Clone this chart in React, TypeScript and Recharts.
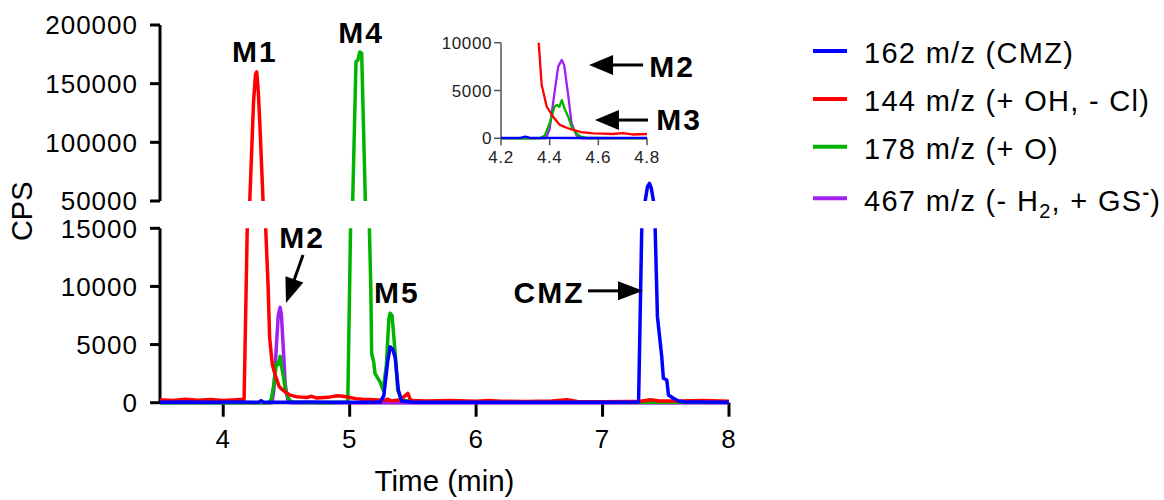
import React from 'react';
import { LineChart, Line, XAxis, YAxis, ReferenceLine, ReferenceDot, Legend, Label } from 'recharts';

const FONT = '"Liberation Sans", Arial, Helvetica, sans-serif';

// ---------- data (time in min, intensity in CPS) ----------
const BLUE_T = [3.5, 3.7, 3.9, 4.1, 4.28, 4.3, 4.32, 4.5, 4.7, 4.9, 5.1, 5.24, 5.27, 5.3, 5.32, 5.34, 5.36, 5.385, 5.41, 5.5, 5.8, 6.2, 6.6, 7.0, 7.285, 7.31, 7.337, 7.355, 7.371, 7.385, 7.403, 7.416, 7.434, 7.468, 7.481, 7.508, 7.521, 7.56, 7.6, 7.65, 7.8, 8.0];
const BLUE_V = [40, 60, 30, 50, 40, 180, 40, 30, 50, 30, 40, 60, 600, 3500, 4800, 4600, 3900, 1100, 150, 40, 30, 40, 30, 40, 60, 15000, 50000, 62000, 65000, 61000, 50000, 15000, 7400, 3960, 2100, 1950, 660, 380, 150, 60, 50, 40];

const RED_T = [3.5, 3.6, 3.7, 3.8, 3.9, 4.0, 4.1, 4.165, 4.19, 4.21, 4.24, 4.255, 4.265, 4.278, 4.29, 4.315, 4.336, 4.355, 4.367, 4.388, 4.414, 4.442, 4.47, 4.496, 4.53, 4.578, 4.62, 4.66, 4.7, 4.74, 4.8, 4.85, 4.9, 4.95, 5.0, 5.05, 5.1, 5.2, 5.27, 5.3, 5.33, 5.4, 5.46, 5.48, 5.5, 5.6, 5.8, 6.0, 6.1, 6.2, 6.4, 6.6, 6.72, 6.8, 7.0, 7.2, 7.3, 7.38, 7.45, 7.6, 7.8, 8.0];
const RED_V = [250, 180, 300, 220, 280, 200, 250, 300, 15000, 50000, 135000, 158000, 160000, 142000, 115000, 50000, 15000, 10000, 5600, 3300, 2260, 1400, 1100, 870, 650, 520, 480, 450, 550, 400, 450, 500, 600, 550, 450, 350, 300, 250, 200, 300, 150, 250, 800, 250, 200, 150, 180, 120, 200, 130, 100, 150, 250, 100, 80, 100, 120, 250, 150, 150, 180, 130];

const GREEN_T = [3.5, 4.0, 4.36, 4.38, 4.40, 4.42, 4.43, 4.44, 4.45, 4.46, 4.476, 4.49, 4.51, 4.53, 4.56, 4.8, 4.985, 5.007, 5.024, 5.05, 5.065, 5.08, 5.095, 5.124, 5.156, 5.167, 5.174, 5.19, 5.2, 5.24, 5.265, 5.29, 5.31, 5.32, 5.335, 5.36, 5.38, 5.41, 5.5, 6.0, 7.0, 8.0];
const GREEN_V = [0, 0, 0, 300, 1570, 3300, 3500, 3300, 4000, 3200, 2260, 1200, 500, 150, 30, 0, 50, 15000, 50000, 168700, 170000, 177000, 176000, 50000, 15000, 9980, 4250, 3500, 2530, 1800, 1090, 3200, 7200, 7700, 7500, 4270, 1090, 230, 80, 30, 30, 30];

const PURPLE_T = [3.5, 4.385, 4.40, 4.42, 4.435, 4.45, 4.46, 4.477, 4.49, 4.51, 4.53, 8.0];
const PURPLE_V = [0, 0, 1000, 4800, 7500, 8200, 7600, 4350, 1570, 300, 0, 0];

const TIME_TICKS = [4, 5, 6, 7, 8];
const UPPER_TICKS = [50000, 100000, 150000, 200000];
const LOWER_TICKS = [0, 5000, 10000, 15000];
const INSET_TIME_TICKS = [4.2, 4.4, 4.6, 4.8];
const INSET_CPS_TICKS = [0, 5000, 10000];

// annotation anchors (data space)
const UPPER_LABELS = [
  { text: 'M1', t: 4.251, v: 168500 },
  { text: 'M4', t: 5.09, v: 184700 },
];
const LOWER_LABELS = [
  { text: 'M2', t: 4.623, v: 13300 },
  { text: 'M5', t: 5.374, v: 8580 },
  { text: 'CMZ', t: 6.577, v: 8580 },
];
const LOWER_ARROWS = [
  { t1: 4.631, v1: 12700, t2: 4.4965, v2: 8580 },
  { t1: 6.885, v1: 9620, t2: 7.32, v2: 9620 },
];
const INSET_LABELS = [
  { text: 'M2', t: 4.903, v: 6380 },
  { text: 'M3', t: 4.932, v: 870 },
];
const INSET_ARROWS = [
  { t1: 4.784, v1: 7670, t2: 4.562, v2: 7670 },
  { t1: 4.804, v1: 1910, t2: 4.586, v2: 1910 },
];

type Part = { s: string; sub?: boolean; sup?: boolean };
const toPoints = (ts: number[], vs: number[]) => ts.map((t, i) => ({ t, v: vs[i] }));

const SERIES = [
  { id: 'm162', color: '#0000FF', parts: [{ s: '162 m/z (CMZ)' }] as Part[], data: toPoints(BLUE_T, BLUE_V) },
  { id: 'm144', color: '#FF0000', parts: [{ s: '144 m/z (+ OH, - Cl)' }] as Part[], data: toPoints(RED_T, RED_V) },
  { id: 'm178', color: '#00B400', parts: [{ s: '178 m/z (+ O)' }] as Part[], data: toPoints(GREEN_T, GREEN_V) },
  {
    id: 'm467',
    color: '#A020F0',
    parts: [{ s: '467 m/z (- H' }, { s: '2', sub: true }, { s: ', + GS' }, { s: '-', sup: true }, { s: ')' }] as Part[],
    data: toPoints(PURPLE_T, PURPLE_V),
  },
];
const DRAW_ORDER = ['m467', 'm178', 'm144', 'm162'];

const renderLines = (w: number, hidden = false) =>
  DRAW_ORDER.map((id) => {
    const s = SERIES.find((x) => x.id === id)!;
    return (
      <Line
        key={id}
        data={s.data}
        dataKey="v"
        type="linear"
        stroke={hidden ? 'none' : s.color}
        strokeWidth={w}
        strokeLinejoin="round"
        dot={false}
        activeDot={false}
        isAnimationActive={false}
      />
    );
  });

const textShape = (txt: string) => (p: any) => (
  <text
    x={p.cx}
    y={p.cy}
    textAnchor="middle"
    fontFamily={FONT}
    fontWeight="bold"
    fontSize={30}
    letterSpacing={2}
    fill="#000"
  >
    {txt}
  </text>
);

const arrowShape = (head: number, half: number, width: number) => (p: any) => {
  const x1 = Number(p.x1), y1 = Number(p.y1), x2 = Number(p.x2), y2 = Number(p.y2);
  const dx = x2 - x1, dy = y2 - y1;
  const len = Math.hypot(dx, dy) || 1;
  const ux = dx / len, uy = dy / len;
  const bx = x2 - ux * head, by = y2 - uy * head;
  const px = -uy, py = ux;
  return (
    <g>
      <line x1={x1} y1={y1} x2={bx + ux} y2={by + uy} stroke="#000" strokeWidth={width} />
      <polygon
        points={`${x2},${y2} ${bx + px * half},${by + py * half} ${bx - px * half},${by - py * half}`}
        fill="#000"
      />
    </g>
  );
};

const renderLabels = (list: { text: string; t: number; v: number }[]) =>
  list.map((l) => (
    <ReferenceDot key={l.text + l.t} x={l.t} y={l.v} ifOverflow="visible" shape={textShape(l.text)} />
  ));

const renderArrows = (list: { t1: number; v1: number; t2: number; v2: number }[], head: number, half: number, w: number) =>
  list.map((a, i) => (
    <ReferenceLine
      key={'a' + i}
      segment={[{ x: a.t1, y: a.v1 }, { x: a.t2, y: a.v2 }]}
      ifOverflow="visible"
      shape={arrowShape(head, half, w)}
    />
  ));

const LEGEND_LINE_Y = [31, 79, 126.7, 178.3];
const LegendBox = () => (
  <svg width={364} height={220} style={{ display: 'block', overflow: 'visible' }}>
    {SERIES.map((s, i) => (
      <g key={s.id}>
        <line x1={13} x2={47} y1={LEGEND_LINE_Y[i]} y2={LEGEND_LINE_Y[i]} stroke={s.color} strokeWidth={4} />
        <text x={64} y={LEGEND_LINE_Y[i] + 12.3} fontFamily={FONT} fontSize={29} letterSpacing={1.3} fill="#000">
          {s.parts.map((pt, j) => {
            const prev = j > 0 ? s.parts[j - 1] : null;
            let dy = 0;
            if (pt.sub) dy = 7;
            else if (pt.sup) dy = -12;
            if (prev && prev.sub && !pt.sub) dy -= 7;
            if (prev && prev.sup && !pt.sup) dy += 12;
            return (
              <tspan key={j} dy={dy} fontSize={pt.sub || pt.sup ? 20 : 29} fontWeight={pt.sup ? 'bold' : 'normal'}>
                {pt.s}
              </tspan>
            );
          })}
        </text>
      </g>
    ))}
  </svg>
);

const AXIS = { stroke: '#000', strokeWidth: 3 };
const TICK = { fill: '#000', fontSize: 26, fontFamily: FONT, letterSpacing: 1 };
const INSET_AXIS = { stroke: '#555', strokeWidth: 1.5 };
const INSET_TICK = { fill: '#222', fontSize: 17, fontFamily: FONT, letterSpacing: 0.6 };

const CpsLabel = (p: any) => {
  const vb = p.viewBox || { x: 60, y: 228, width: 100, height: 174 };
  const cx = vb.x - 38;
  const cy = vb.y - 17;
  return (
    <text x={cx} y={cy} transform={`rotate(-90 ${cx} ${cy})`} textAnchor="middle" dominantBaseline="central" fontFamily={FONT} fontSize={29} fill="#000">
      CPS
    </text>
  );
};

const TimeLabel = (p: any) => {
  const vb = p.viewBox || { x: 160, y: 403, width: 569, height: 90 };
  return (
    <text x={vb.x + vb.width / 2} y={vb.y + vb.height - 2} textAnchor="middle" fontFamily={FONT} fontSize={29.5} fill="#000">
      Time (min)
    </text>
  );
};

// lower panel: 0..15000 drawn over 228.3..402.7 px; the line layer reaches 3 px further down so baselines sit on the axis
const LOWER_LINE_DOMAIN = [-258, 15000];
const INSET_LINE_DOMAIN = [-230, 10000];

const MAIN_W = 3.5;
const INSET_W = 2.3;

export default function App() {
  return (
    <div style={{ position: 'absolute', left: 0, top: 0, width: 1164, height: 500, background: '#fff', fontFamily: FONT }}>
      {/* lower panel axes 0 - 15000 */}
      <div style={{ position: 'absolute', left: 0, top: 0 }}>
        <LineChart width={1164} height={500} margin={{ top: 228.3, right: 435, bottom: 7.3, left: 60 }}>
          <XAxis
            type="number"
            dataKey="t"
            domain={[3.5, 8]}
            ticks={TIME_TICKS}
            allowDataOverflow
            height={90}
            tickSize={14}
            tickMargin={13}
            axisLine={AXIS}
            tickLine={AXIS}
            tick={TICK}
            interval={0}
          >
            <Label content={TimeLabel} />
          </XAxis>
          <YAxis
            type="number"
            domain={[0, 15000]}
            ticks={LOWER_TICKS}
            allowDataOverflow
            width={100}
            tickSize={10}
            tickMargin={12}
            axisLine={AXIS}
            tickLine={AXIS}
            tick={TICK}
            interval={0}
          >
            <Label content={CpsLabel} />
          </YAxis>
          {renderLines(MAIN_W, true)}
          <Legend
            layout="vertical"
            align="center"
            verticalAlign="middle"
            wrapperStyle={{ left: 800, top: 20, width: 364, height: 220 }}
            content={() => <LegendBox />}
          />
        </LineChart>
      </div>
      {/* lower panel lines */}
      <div style={{ position: 'absolute', left: 0, top: 0 }}>
        <LineChart width={1164} height={500} margin={{ top: 228.3, right: 435, bottom: 94.3, left: 160 }}>
          <XAxis type="number" dataKey="t" domain={[3.5, 8]} allowDataOverflow hide />
          <YAxis type="number" domain={LOWER_LINE_DOMAIN} allowDataOverflow hide />
          {renderLines(MAIN_W)}
          {renderLabels(LOWER_LABELS)}
          {renderArrows(LOWER_ARROWS, 25, 9.5, 3)}
        </LineChart>
      </div>
      {/* upper panel 50000 - 200000 */}
      <div style={{ position: 'absolute', left: 0, top: 0 }}>
        <LineChart width={1164} height={500} margin={{ top: 25, right: 435, bottom: 299, left: 60 }}>
          <XAxis type="number" dataKey="t" domain={[3.5, 8]} allowDataOverflow hide />
          <YAxis
            type="number"
            domain={[50000, 200000]}
            ticks={UPPER_TICKS}
            allowDataOverflow
            width={100}
            tickSize={10}
            tickMargin={12}
            axisLine={AXIS}
            tickLine={AXIS}
            tick={TICK}
            interval={0}
          />
          {renderLines(MAIN_W)}
          {renderLabels(UPPER_LABELS)}
        </LineChart>
      </div>
      {/* inset axes */}
      <div style={{ position: 'absolute', left: 430, top: 0 }}>
        <LineChart width={300} height={180} margin={{ top: 42.7, right: 83, bottom: 11.7, left: 11 }}>
          <XAxis
            type="number"
            dataKey="t"
            domain={[4.2, 4.8]}
            ticks={INSET_TIME_TICKS}
            allowDataOverflow
            height={30}
            tickSize={7}
            tickMargin={6}
            tickFormatter={(v: number) => v.toFixed(1)}
            axisLine={INSET_AXIS}
            tickLine={INSET_AXIS}
            tick={INSET_TICK}
            interval={0}
          />
          <YAxis
            type="number"
            domain={[0, 10000]}
            ticks={INSET_CPS_TICKS}
            allowDataOverflow
            width={60}
            tickSize={7}
            tickMargin={2}
            axisLine={INSET_AXIS}
            tickLine={INSET_AXIS}
            tick={INSET_TICK}
            interval={0}
          />
          {renderLines(INSET_W, true)}
        </LineChart>
      </div>
      {/* inset lines */}
      <div style={{ position: 'absolute', left: 430, top: 0 }}>
        <LineChart width={300} height={180} margin={{ top: 42.7, right: 83, bottom: 39.5, left: 71 }}>
          <XAxis type="number" dataKey="t" domain={[4.2, 4.8]} allowDataOverflow hide />
          <YAxis type="number" domain={INSET_LINE_DOMAIN} allowDataOverflow hide />
          {renderLines(INSET_W)}
          {renderArrows(INSET_ARROWS, 24, 10, 3)}
          {renderLabels(INSET_LABELS)}
        </LineChart>
      </div>
    </div>
  );
}
